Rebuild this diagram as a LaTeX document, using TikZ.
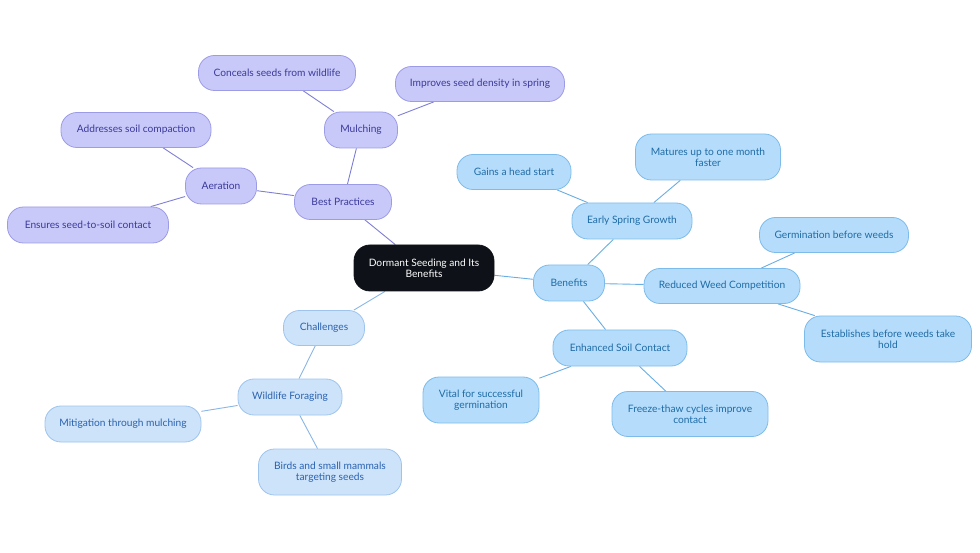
\documentclass[tikz,border=0pt]{standalone}
\usepackage{fontspec}
\setmainfont{Lato}
\usetikzlibrary{backgrounds}
\definecolor{pfill}{HTML}{C9C9F9}
\definecolor{pdraw}{HTML}{9B9BE6}
\definecolor{ptext}{HTML}{3A3A9C}
\definecolor{pedge}{HTML}{7F7FD6}
\definecolor{bfill}{HTML}{B5DDFB}
\definecolor{bdraw}{HTML}{7DBBEA}
\definecolor{btext}{HTML}{1F6BA6}
\definecolor{bedge}{HTML}{6AADE2}
\definecolor{cfill}{HTML}{CDE3FA}
\definecolor{cdraw}{HTML}{9EC4EE}
\definecolor{ctext}{HTML}{2A62B0}
\definecolor{cedge}{HTML}{8AB6E6}
\definecolor{rootfill}{HTML}{0E1117}
\tikzset{
  base/.style={rounded corners=16pt, align=center, inner sep=2pt, font=\fontsize{10.2}{11}\selectfont, line width=0.8pt},
  pnode/.style={base, fill=pfill, draw=pdraw, text=ptext},
  bnode/.style={base, fill=bfill, draw=bdraw, text=btext},
  cnode/.style={base, fill=cfill, draw=cdraw, text=ctext},
  rootnode/.style={base, fill=rootfill, draw=rootfill, text=white},
  pe/.style={draw=pedge, line width=0.9pt},
  be/.style={draw=bedge, line width=0.9pt},
  ce/.style={draw=cedge, line width=0.9pt},
}
\begin{document}
\begin{tikzpicture}[x=1pt,y=-1pt]
\useasboundingbox (0,0) rectangle (980,553);
% root
\node[rootnode, minimum width=140pt, minimum height=46pt] (root) at (424,268) {Dormant Seeding and Its\\Benefits};
% purple
\node[pnode, minimum width=97pt, minimum height=35pt] (bp) at (343,202) {Best Practices};
\node[pnode, minimum width=73pt, minimum height=36pt] (mul) at (361,130) {Mulching};
\node[pnode, minimum width=157pt, minimum height=35pt] (con) at (277,73) {Conceals seeds from wildlife};
\node[pnode, minimum width=169pt, minimum height=35pt] (imp) at (480,84) {Improves seed density in spring};
\node[pnode, minimum width=71pt, minimum height=36pt] (aer) at (221,186) {Aeration};
\node[pnode, minimum width=150pt, minimum height=35pt] (add) at (136,130) {Addresses soil compaction};
\node[pnode, minimum width=161pt, minimum height=36pt] (ens) at (88,225) {Ensures seed-to-soil contact};
% blue
\node[bnode, minimum width=71pt, minimum height=36pt] (ben) at (569,283) {Benefits};
\node[bnode, minimum width=120pt, minimum height=36pt] (esg) at (632,221) {Early Spring Growth};
\node[bnode, minimum width=114pt, minimum height=35pt] (gai) at (514,172) {Gains a head start};
\node[bnode, minimum width=145pt, minimum height=46pt] (mat) at (708,157) {Matures up to one month\\faster};
\node[bnode, minimum width=156pt, minimum height=35pt] (rwc) at (722,286) {Reduced Weed Competition};
\node[bnode, minimum width=149pt, minimum height=35pt] (gbw) at (834,235) {Germination before weeds};
\node[bnode, minimum width=167pt, minimum height=46pt] (est) at (888,339) {Establishes before weeds take\\hold};
\node[bnode, minimum width=134pt, minimum height=36pt] (esc) at (620,348) {Enhanced Soil Contact};
\node[bnode, minimum width=116pt, minimum height=46pt] (vit) at (481,400) {Vital for successful\\germination};
\node[bnode, minimum width=156pt, minimum height=45pt] (frz) at (690,414) {Freeze-thaw cycles improve\\contact};
% challenges
\node[cnode, minimum width=81pt, minimum height=35pt] (cha) at (324,328) {Challenges};
\node[cnode, minimum width=104pt, minimum height=36pt] (wil) at (290,397) {Wildlife Foraging};
\node[cnode, minimum width=156pt, minimum height=36pt] (mit) at (123,424) {Mitigation through mulching};
\node[cnode, minimum width=143pt, minimum height=46pt] (bir) at (330,472) {Birds and small mammals\\targeting seeds};
\begin{scope}[on background layer]
\draw[pe] (root) -- (bp);
\draw[pe] (bp) -- (mul);
\draw[pe] (mul) -- (con);
\draw[pe] (mul) -- (imp);
\draw[pe] (bp) -- (aer);
\draw[pe] (aer) -- (add);
\draw[pe] (aer) -- (ens);
\draw[be] (root) -- (ben);
\draw[be] (ben) -- (esg);
\draw[be] (esg) -- (gai);
\draw[be] (esg) -- (mat);
\draw[be] (ben) -- (rwc);
\draw[be] (rwc) -- (gbw);
\draw[be] (rwc) -- (est);
\draw[be] (ben) -- (esc);
\draw[be] (esc) -- (vit);
\draw[be] (esc) -- (frz);
\draw[ce] (root) -- (cha);
\draw[ce] (cha) -- (wil);
\draw[ce] (wil) -- (mit);
\draw[ce] (wil) -- (bir);
\end{scope}
\end{tikzpicture}
\end{document}
